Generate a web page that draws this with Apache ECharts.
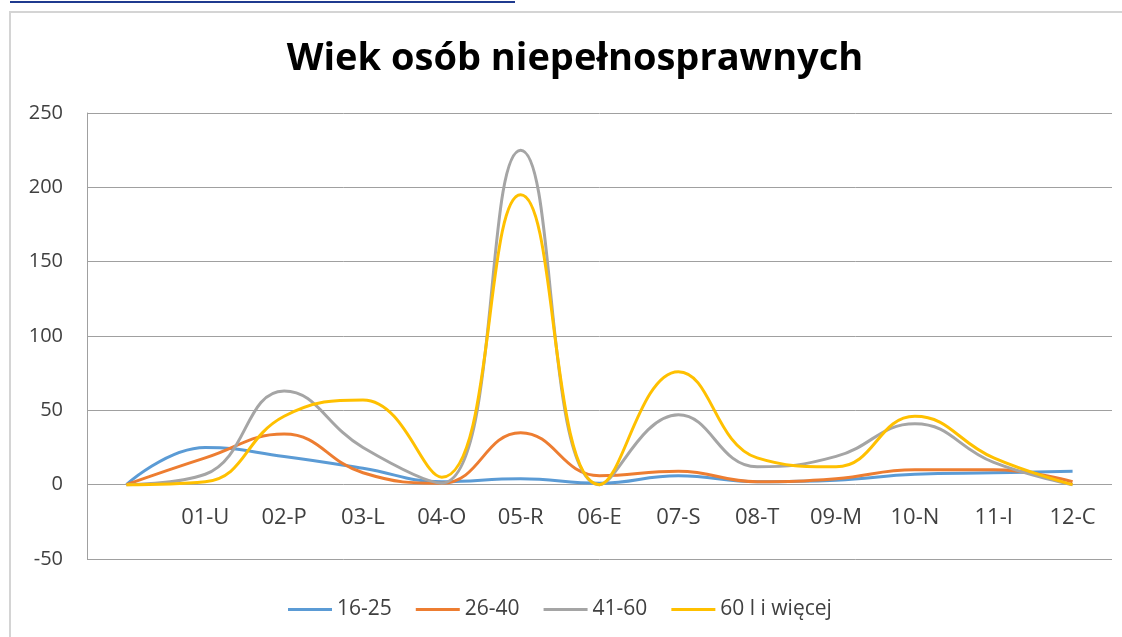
<!DOCTYPE html>
<html>
<head>
<meta charset="utf-8">
<script src="https://cdn.jsdelivr.net/npm/echarts@6/dist/echarts.min.js"></script>
<style>html,body{margin:0;padding:0;background:#fff}#c{width:1122px;height:637px}</style>
</head>
<body>
<div id="c"></div>
<script>
var categories = ['', '01-U', '02-P', '03-L', '04-O', '05-R', '06-E', '07-S', '08-T', '09-M', '10-N', '11-I', '12-C'];
var s16_25 = [0, 25, 19, 11, 2, 4, 1, 6, 2, 3, 7, 8, 9];
var s26_40 = [0, 18, 34, 8, 1, 35, 6, 9, 2, 4, 10, 10, 2];
var s41_60 = [0, 7, 63, 25, 1, 225, 0, 47, 12, 19, 41, 15, 0];
var s60plus = [0, 2, 46, 57, 5, 195, 0, 76, 18, 12, 46, 18, 0];
var seriesNames = ['16-25', '26-40', '41-60', '60 l i więcej'];
var yTicks = {min: -50, max: 250, step: 50};
var titleText = 'Wiek osób niepełnosprawnych';

var chart = echarts.init(document.getElementById('c'));
var colors = ['#5B9BD5', '#ED7D31', '#A5A5A5', '#FFC000'];
var data = [s16_25, s26_40, s41_60, s60plus];
var font = 'Open Sans';
chart.setOption({
  animation: false,
  color: colors,
  graphic: [
    {type: 'rect', shape: {x: 10, y: 12, width: 1130, height: 640}, style: {fill: 'none', stroke: '#d4d4d4', lineWidth: 2}, silent: true},
    {type: 'rect', shape: {x: 10, y: 1, width: 505, height: 2}, style: {fill: '#1f3a8f'}, silent: true},
    {type: 'text', x: 575, y: 59, style: {text: titleText, fill: '#000', font: 'bold 38px "Open Sans"', align: 'center', verticalAlign: 'middle'}, silent: true}
  ],
  grid: {left: 87, top: 113, width: 1025, height: 446},
  legend: {
    data: seriesNames, left: 283, top: 594, icon: 'rect', itemWidth: 44, itemHeight: 3, itemGap: 24,
    textStyle: {fontFamily: font, fontSize: 21, color: '#404040'}
  },
  xAxis: {
    type: 'category', data: categories, boundaryGap: true,
    offset: -74,
    axisLine: {show: false, onZero: false},
    axisTick: {show: false},
    axisLabel: {interval: 0, margin: 22, fontFamily: font, fontSize: 22, color: '#404040'},
    splitLine: {show: false}
  },
  yAxis: {
    type: 'value', min: yTicks.min, max: yTicks.max, interval: yTicks.step,
    axisLine: {show: true, lineStyle: {color: '#a0a0a0'}},
    axisTick: {show: false},
    axisLabel: {margin: 24, fontFamily: font, fontSize: 20, color: '#404040'},
    splitLine: {lineStyle: {color: '#a0a0a0', width: 1}}
  },
  series: data.map(function (d, i) {
    return {
      name: seriesNames[i], type: 'line', data: d, smooth: 0.45, showSymbol: false, symbol: 'none',
      lineStyle: {width: 3, color: colors[i]}, itemStyle: {color: colors[i]}
    };
  })
});
</script>
</body>
</html>
